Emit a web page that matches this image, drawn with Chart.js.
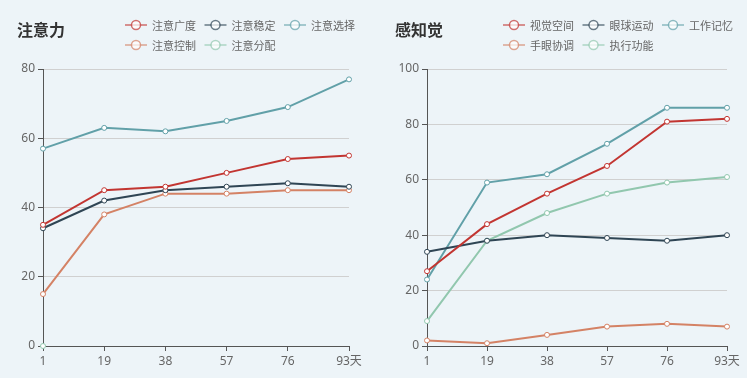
<!DOCTYPE html>
<html>
<head>
<meta charset="utf-8">
<script src="https://cdn.jsdelivr.net/npm/chart.js@4"></script>
<style>
  html, body { margin: 0; padding: 0; background: #edf4f8; }
  #wrap { position: relative; width: 747px; height: 378px; overflow: hidden; background: #edf4f8; }
  .box { position: absolute; top: 0; height: 378px; }
  #b1 { left: 0; width: 374px; }
  #b2 { left: 374px; width: 373px; }
</style>
</head>
<body>
<div id="wrap">
  <div class="box" id="b1"><canvas id="c1"></canvas></div>
  <div class="box" id="b2"><canvas id="c2"></canvas></div>
</div>
<script>
// ---- data ----
const days = ['1', '19', '38', '57', '76', '93'];
const dayUnit = '天';

const attentionTitle = '注意力';
const attentionNames = ['注意广度', '注意稳定', '注意选择', '注意控制', '注意分配'];
const attnBreadth   = [35, 45, 46, 50, 54, 55];
const attnStability = [34, 42, 45, 46, 47, 46];
const attnSelection = [57, 63, 62, 65, 69, 77];
const attnControl   = [15, 38, 44, 44, 45, 45];
const attnDivision  = [0, null, null, null, null, null];
const attnTicksMax = 80;

const perceptionTitle = '感知觉';
const perceptionNames = ['视觉空间', '眼球运动', '工作记忆', '手眼协调', '执行功能'];
const visualSpatial = [27, 44, 55, 65, 81, 82];
const eyeMovement   = [34, 38, 40, 39, 38, 40];
const workingMemory = [24, 59, 62, 73, 86, 86];
const handEye       = [2, 1, 4, 7, 8, 7];
const executive     = [9, 38, 48, 55, 59, 61];
const percTicksMax = 100;

const palette = ['#c23531', '#2f4554', '#61a0a8', '#d48265', '#91c7ae'];

Chart.defaults.font.family = '"Noto Sans", "Noto Sans CJK SC", sans-serif';
Chart.defaults.font.size = 12;
Chart.defaults.color = '#666';

const header = {
  id: 'header',
  afterDraw(chart, args, opts) {
    const ctx = chart.ctx;
    ctx.save();
    ctx.textBaseline = 'middle';
    ctx.textAlign = 'left';
    ctx.fillStyle = '#333';
    ctx.font = 'bold 16px "Noto Sans CJK SC", sans-serif';
    ctx.fillText(opts.title, opts.titleX, 30);
    ctx.font = '11px "Noto Sans CJK SC", sans-serif';
    chart.data.datasets.forEach((ds, i) => {
      const row = Math.floor(i / 3), col = i % 3;
      const x = opts.legendX + col * 79.5;
      const y = 25 + row * 20;
      ctx.globalAlpha = 0.7;
      ctx.strokeStyle = ds.borderColor;
      ctx.lineWidth = 1.5;
      ctx.beginPath();
      ctx.moveTo(x, y);
      ctx.lineTo(x + 22, y);
      ctx.stroke();
      ctx.beginPath();
      ctx.arc(x + 11, y, 4.5, 0, Math.PI * 2);
      ctx.fillStyle = '#fff';
      ctx.fill();
      ctx.stroke();
      ctx.globalAlpha = 1;
      ctx.fillStyle = '#666';
      ctx.fillText(ds.label, x + 27, y + 0.5);
    });
    ctx.restore();
  }
};

function makeDatasets(names, series) {
  return series.map((d, i) => ({
    label: names[i],
    data: d,
    borderColor: palette[i],
    backgroundColor: palette[i],
    borderWidth: 2,
    pointRadius: 2.5,
    pointBorderWidth: 1,
    pointBackgroundColor: '#fff',
    pointBorderColor: palette[i],
    tension: 0,
    clip: false,
    spanGaps: false
  }));
}

function makeChart(id, title, names, series, yMax, yWidth, padRight, titleX, legendX) {
  return new Chart(document.getElementById(id), {
    type: 'line',
    data: { labels: days, datasets: makeDatasets(names, series) },
    plugins: [header],
    options: {
      responsive: true,
      maintainAspectRatio: false,
      animation: false,
      layout: { padding: { top: 69, left: 0, right: padRight, bottom: 0 } },
      plugins: {
        legend: { display: false },
        tooltip: { enabled: false },
        header: { title: title, titleX: titleX, legendX: legendX }
      },
      scales: {
        x: {
          offset: false,
          grid: { display: true, drawOnChartArea: false, tickLength: 5, tickColor: '#555' },
          border: { color: '#555', width: 1 },
          ticks: {
            color: '#666',
            padding: 3,
            maxRotation: 0,
            autoSkip: false,
            callback: function (v, i) {
              const l = days[i];
              return i === days.length - 1 ? l + dayUnit : l;
            }
          },
          afterFit(scale) { scale.height = 32; }
        },
        y: {
          min: 0,
          max: yMax,
          ticks: { stepSize: 20, color: '#666', padding: 3 },
          grid: { color: '#d0d0d0', tickLength: 5, tickColor: '#555' },
          border: { color: '#555', width: 1 },
          afterFit(scale) { scale.width = yWidth; }
        }
      }
    }
  });
}

makeChart('c1', attentionTitle, attentionNames,
  [attnBreadth, attnStability, attnSelection, attnControl, attnDivision],
  attnTicksMax, 43, 25, 17, 125);
makeChart('c2', perceptionTitle, perceptionNames,
  [visualSpatial, eyeMovement, workingMemory, handEye, executive],
  percTicksMax, 53, 20, 21, 129);
</script>
</body>
</html>
